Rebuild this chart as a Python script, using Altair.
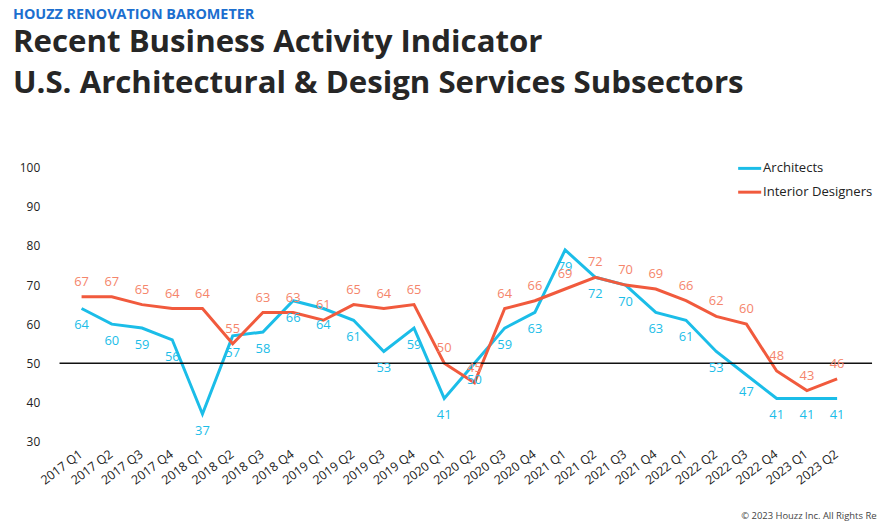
import altair as alt
import pandas as pd

quarters = ["2017 Q1", "2017 Q2", "2017 Q3", "2017 Q4", "2018 Q1", "2018 Q2", "2018 Q3", "2018 Q4",
            "2019 Q1", "2019 Q2", "2019 Q3", "2019 Q4", "2020 Q1", "2020 Q2", "2020 Q3", "2020 Q4",
            "2021 Q1", "2021 Q2", "2021 Q3", "2021 Q4", "2022 Q1", "2022 Q2", "2022 Q3", "2022 Q4",
            "2023 Q1", "2023 Q2"]
architects = [64, 60, 59, 56, 37, 57, 58, 66, 64, 61, 53, 59, 41, 50, 59, 63, 79, 72, 70, 63, 61, 53, 47, 41, 41, 41]
interior_designers = [67, 67, 65, 64, 64, 55, 63, 63, 61, 65, 64, 65, 50, 45, 64, 66, 69, 72, 70, 69, 66, 62, 60, 48, 43, 46]
series_names = ["Architects", "Interior Designers"]
y_ticks = [30, 40, 50, 60, 70, 80, 90, 100]

CYAN = "#1BBDE8"
ORANGE = "#F15A3D"
SALMON = "#F5856B"
FONT = "Open Sans"

df = pd.DataFrame({
    "quarter": quarters * 2,
    "value": architects + interior_designers,
    "series": [series_names[0]] * len(quarters) + [series_names[1]] * len(quarters),
})

W, H = 812, 276

x_axis = alt.Axis(title=None, labelAngle=-37, labelAlign="right", labelBaseline="middle",
                  labelFontSize=12.5, labelColor="#222", labelFont=FONT, tickSize=0,
                  domain=False, labelPadding=11, labelOffset=-1, labelOverlap=False)
x_scale = alt.Scale(type="point", range=[7, 800])
y_axis = alt.Axis(title=None, values=y_ticks, tickSize=0, domain=False, grid=False,
                  labelFontSize=12, labelColor="#222", labelFont=FONT, labelPadding=20,
                  labelOverlap=False)
y_scale = alt.Scale(domain=[30, 100])

x_enc = alt.X("quarter:O", sort=quarters, scale=x_scale, axis=x_axis)
y_enc = alt.Y("value:Q", scale=y_scale, axis=y_axis)

base = alt.Chart(df)

lines = base.mark_line(strokeWidth=3).encode(
    x=x_enc, y=y_enc,
    color=alt.Color("series:N", scale=alt.Scale(domain=series_names, range=[CYAN, ORANGE]),
                    legend=alt.Legend(title=None, orient="none", legendX=683, legendY=-13,
                                      symbolType="stroke", symbolSize=540, symbolStrokeWidth=3,
                                      labelFontSize=13.2, labelFont=FONT, labelColor="#222",
                                      labelOffset=0, rowPadding=4)),
)

rule = alt.Chart(pd.DataFrame({"v": [50]})).mark_rule(color="#111", strokeWidth=1.3).encode(
    y=alt.Y("v:Q", scale=y_scale, axis=y_axis), x=alt.value(0), x2=alt.value(820))

arch_labels = base.transform_filter(alt.datum.series == series_names[0]).mark_text(
    dy=17, fontSize=13, font=FONT, color=CYAN).encode(
    x=x_enc, y=y_enc, text="value:Q")

id_labels = base.transform_filter(alt.datum.series == series_names[1]).mark_text(
    dy=-15, fontSize=13, font=FONT, color=SALMON).encode(
    x=x_enc, y=y_enc, text="value:Q")

copyright_df = pd.DataFrame({"t": ["© 2023 Houzz Inc. All Rights Reserved"]})
copyright = alt.Chart(copyright_df).mark_text(align="left", baseline="alphabetic", fontSize=9.5,
                                              font=FONT, color="#444").encode(
    x=alt.value(688), y=alt.value(354), text="t:N")

chart = alt.layer(lines, rule, arch_labels, id_labels, copyright).properties(
    width=W, height=H,
    title=alt.TitleParams(
        text="HOUZZ RENOVATION BAROMETER",
        subtitle=["Recent Business Activity Indicator", "U.S. Architectural & Design Services Subsectors"],
        anchor="start", frame="group", dx=-47, offset=55,
        font=FONT, fontSize=14.5, fontWeight="bold", color="#1C6FCF",
        subtitleFont=FONT, subtitleFontSize=31.5, subtitleFontWeight="bold", subtitleColor="#262626",
        subtitleLineHeight=41, subtitlePadding=5,
    ),
    autosize=alt.AutoSizeParams(type="none"),
    padding={"left": 52, "top": 159, "right": 13, "bottom": 78},
).configure_view(stroke=None)

chart.save("out.html", embed_options={"renderer": "svg", "actions": False})
